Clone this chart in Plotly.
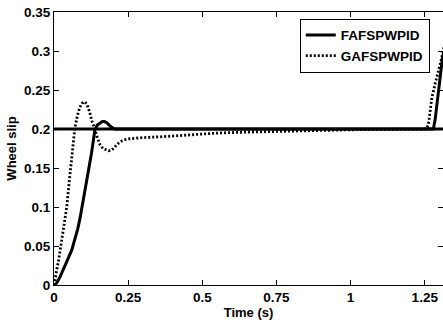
import plotly.graph_objects as go

# FAFSPWPID (solid)
fa_t = [0, 0.008, 0.02, 0.03, 0.04, 0.05, 0.06, 0.07, 0.08, 0.088, 0.094, 0.1,
        0.107, 0.114, 0.12, 0.126, 0.132, 0.138, 0.146, 0.155, 0.163, 0.17, 0.178,
        0.186, 0.195, 0.205, 0.215, 0.5, 1.0,
        1.279, 1.285, 1.292, 1.298, 1.304, 1.31, 1.315]
fa_slip = [0, 0.002, 0.01, 0.018, 0.027, 0.036, 0.045, 0.057, 0.072, 0.086, 0.1, 0.114,
           0.128, 0.142, 0.155, 0.168, 0.183, 0.199, 0.205, 0.208, 0.2095, 0.2095, 0.208,
           0.205, 0.202, 0.2, 0.2, 0.2, 0.2,
           0.2, 0.212, 0.235, 0.258, 0.28, 0.292, 0.3]

# GAFSPWPID (dotted)
ga_t = [0, 0.008, 0.016, 0.023, 0.033, 0.043, 0.052, 0.058, 0.064, 0.07, 0.078, 0.087,
        0.095, 0.103, 0.111, 0.12, 0.128, 0.138, 0.145, 0.155, 0.165, 0.175, 0.185,
        0.195, 0.205, 0.215, 0.23, 0.245, 0.27, 0.3, 0.36, 0.45, 0.56, 0.65, 0.75,
        0.9, 1.0, 1.1, 1.2, 1.255, 1.262, 1.268, 1.274, 1.285, 1.296, 1.305, 1.315]
ga_slip = [0, 0.015, 0.033, 0.05, 0.075, 0.1, 0.135, 0.158, 0.18, 0.2, 0.216, 0.228,
           0.233, 0.235, 0.232, 0.222, 0.21, 0.2, 0.19, 0.18, 0.175, 0.173, 0.172,
           0.173, 0.177, 0.181, 0.185, 0.187, 0.188, 0.189, 0.19, 0.192, 0.195, 0.196, 0.197,
           0.198, 0.199, 0.1995, 0.2, 0.2, 0.205, 0.222, 0.24, 0.258, 0.273, 0.288, 0.305]

# Desired slip reference
ref_t = [0, 1.32]
ref_slip = [0.2, 0.2]

x_ticks = [0, 0.25, 0.5, 0.75, 1.0, 1.25]
x_tick_text = ["0", "0.25", "0.5", "0.75", "1", "1.25"]
y_ticks = [0, 0.05, 0.1, 0.15, 0.2, 0.25, 0.3, 0.35]
y_tick_text = ["0", "0.05", "0.1", "0.15", "0.2", "0.25", "0.3", "0.35"]

FONT = "Liberation Sans, Arial, Helvetica, sans-serif"

fig = go.Figure()
fig.add_trace(go.Scatter(x=ref_t, y=ref_slip, mode="lines", yaxis="y2",
                         line=dict(color="black", width=3), showlegend=False,
                         hoverinfo="skip"))
fig.add_trace(go.Scatter(x=fa_t, y=fa_slip, mode="lines", name="FAFSPWPID",
                         line=dict(color="black", width=3)))
fig.add_trace(go.Scatter(x=ga_t, y=ga_slip, mode="lines", name="GAFSPWPID",
                         line=dict(color="black", width=2.8, dash="2px,2px")))

axis_font = dict(family=FONT, size=13.5, color="black", weight="bold")
title_font = dict(family=FONT, size=13, color="black", weight="bold")

fig.update_layout(
    width=443, height=323,
    margin=dict(l=54, r=0, t=12, b=38, autoexpand=False),
    paper_bgcolor="white", plot_bgcolor="white",
    font=dict(family=FONT, color="black"),
    xaxis=dict(range=[0, 1.3115], tickvals=x_ticks, ticktext=x_tick_text,
               ticks="inside", ticklen=5, tickcolor="black", tickwidth=1,
               showline=True, linecolor="black", linewidth=1, mirror="ticks",
               showgrid=False, zeroline=False, tickfont=axis_font, automargin=False,
               title=dict(text="Time (s)", font=title_font, standoff=3)),
    yaxis=dict(range=[0, 0.35], tickvals=y_ticks, ticktext=y_tick_text,
               ticks="inside", ticklen=5, tickcolor="black", tickwidth=1,
               showline=True, linecolor="black", linewidth=1,
               showgrid=False, zeroline=False, tickfont=axis_font, automargin=False,
               title=dict(text="Wheel slip", font=title_font, standoff=4)),
    yaxis2=dict(range=[0, 0.35], tickvals=y_ticks, overlaying="y", side="right",
                ticks="inside", ticklen=5, tickcolor="black", tickwidth=1,
                showline=False, showgrid=False, zeroline=False, automargin=False,
                showticklabels=False),
    legend=dict(x=0.966, xanchor="right", y=0.975, yanchor="top",
                bgcolor="white", bordercolor="black", borderwidth=1,
                font=dict(family=FONT, size=13.5, color="black", weight="bold"),
                itemwidth=30, tracegroupgap=0),
    showlegend=True,
)

fig.write_html("out.html", config={"displayModeBar": False},
               post_script="document.body.style.margin='0';document.body.style.overflow='hidden';")
